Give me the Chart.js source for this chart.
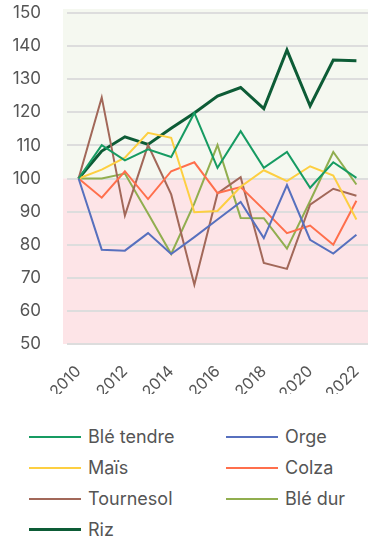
<!DOCTYPE html>
<html lang="fr">
<head>
<meta charset="utf-8">
<title>Indice des prix</title>
<script src="https://cdn.jsdelivr.net/npm/chart.js@4/dist/chart.umd.min.js"></script>
<style>
  html, body { margin: 0; padding: 0; background: #ffffff; }
  #wrap { position: relative; width: 368px; height: 541px; overflow: hidden; }
  #canvasBox { position: absolute; left: 0; top: 0; width: 368px; height: 404px; }
  #legend {
    position: absolute; left: 29px; top: 425px;
    display: grid; grid-template-columns: 197px 140px; row-gap: 8px;
    font-family: Inter, "Open Sans", sans-serif; font-size: 18px; color: #555;
  }
  .item { display: flex; align-items: center; height: 23px; white-space: nowrap; }
  .swatch { display: inline-block; width: 52px; margin-right: 7px; }
</style>
</head>
<body>
<div id="wrap">
  <div id="canvasBox"><canvas id="chart"></canvas></div>
  <div id="legend"></div>
</div>
<script>
// Années et indices (base 100 en 2010)
const years = ['2010','2011','2012','2013','2014','2015','2016','2017','2018','2019','2020','2021','2022'];
const bleTendre = [100, 110.1, 105.5, 108.8, 106.5, 119.8, 103.2, 114.3, 103.2, 108.0, 97.2, 104.9, 100.2];
const orge      = [100, 78.5, 78.2, 83.5, 77.2, 82.3, 87.6, 92.9, 82.0, 98.0, 81.5, 77.3, 83.0];
const mais      = [100, 102.7, 106.3, 113.8, 112.3, 89.8, 90.2, 97.5, 102.5, 99.2, 103.7, 100.9, 87.6];
const colza     = [100, 94.2, 102.2, 93.8, 102.2, 104.9, 95.6, 97.4, 90.6, 83.5, 85.8, 80.0, 93.3];
const tournesol = [100, 124.5, 88.8, 110.1, 95.2, 67.9, 95.5, 100.4, 74.5, 72.7, 92.1, 96.9, 94.8];
const bleDur    = [100, 100.0, 101.5, 89.4, 77.2, 92.5, 110.1, 88.1, 88.0, 78.8, 93.2, 108.0, 98.2];
const riz       = [100, 108.3, 112.6, 110.3, 115.2, 119.8, 124.9, 127.5, 121.1, 138.8, 121.9, 135.8, 135.6];

// Axe des indices : bornes, pas et valeur de référence
const yMin = 50;
const yMax = 150;
const yStep = 10;
const baseValue = 100;

const FONT = 'Inter, "Open Sans", sans-serif';
const TEXT = '#555555';

function series(label, data, color, width) {
  return {
    label, data,
    borderColor: color, backgroundColor: color,
    borderWidth: width || 2,
    pointRadius: 0, pointHoverRadius: 0,
    tension: 0, fill: false
  };
}

// Zones colorées : au-dessus de la base (vert pâle), en dessous (rose pâle)
const zonesPlugin = {
  id: 'zones',
  beforeDraw(chart) {
    const { ctx, chartArea, scales } = chart;
    const y = scales.y;
    const yTop = y.getPixelForValue(yMax) - 4;
    const yBase = y.getPixelForValue(baseValue);
    const yBottom = y.getPixelForValue(yMin);
    const left = chartArea.left - 4;
    const right = chart.width;
    ctx.save();
    ctx.fillStyle = '#f5f8f0';
    ctx.fillRect(left, yTop, right - left, yBase - yTop);
    ctx.fillStyle = '#fde4e7';
    ctx.fillRect(left, yBase, right - left, yBottom - yBase);
    ctx.restore();
  }
};

// Légende en deux colonnes, construite à partir des jeux de données
const htmlLegend = {
  id: 'htmlLegend',
  afterUpdate(chart) {
    const box = document.getElementById('legend');
    box.innerHTML = '';
    const items = chart.options.plugins.legend.labels.generateLabels(chart);
    items.forEach(it => {
      const ds = chart.data.datasets[it.datasetIndex];
      const row = document.createElement('div');
      row.className = 'item';
      const sw = document.createElement('span');
      sw.className = 'swatch';
      sw.style.height = (ds.borderWidth >= 3 ? 3 : 2) + 'px';
      sw.style.background = ds.borderColor;
      const tx = document.createElement('span');
      tx.textContent = it.text;
      row.appendChild(sw);
      row.appendChild(tx);
      box.appendChild(row);
    });
  }
};

new Chart(document.getElementById('chart'), {
  type: 'line',
  data: {
    labels: years,
    datasets: [
      series('Blé tendre', bleTendre, '#169b62'),
      series('Orge', orge, '#5770be'),
      series('Maïs', mais, '#fdcf41'),
      series('Colza', colza, '#ff6f4c'),
      series('Tournesol', tournesol, '#a26859'),
      series('Blé dur', bleDur, '#91ae4f'),
      series('Riz', riz, '#0d5c36', 3)
    ]
  },
  options: {
    responsive: true,
    maintainAspectRatio: false,
    animation: false,
    layout: { autoPadding: false, padding: { left: 9, top: 13, right: -2, bottom: 10 } },
    plugins: {
      legend: { display: false },
      tooltip: { enabled: false }
    },
    scales: {
      x: {
        offset: true,
        grid: { display: false, drawTicks: false },
        border: { display: false },
        afterFit(scale) {
          scale.height = 50;
          scale.paddingLeft = 0;
          scale.paddingRight = 0;
        },
        ticks: {
          autoSkip: false,
          maxRotation: 45, minRotation: 45,
          padding: 18,
          color: TEXT,
          font: { family: FONT, size: 16 },
          callback(v, i) { return i % 2 === 0 ? years[i] : ''; }
        }
      },
      y: {
        min: yMin, max: yMax,
        afterFit(scale) {
          scale.width = 58;
          scale.paddingTop = 0;
          scale.paddingBottom = 0;
        },
        grid: { color: '#dddddd', lineWidth: 2, drawTicks: false },
        border: { display: false },
        ticks: {
          stepSize: yStep,
          padding: 26,
          color: TEXT,
          font: { family: FONT, size: 17 }
        }
      }
    }
  },
  plugins: [zonesPlugin, htmlLegend]
});
</script>
</body>
</html>
